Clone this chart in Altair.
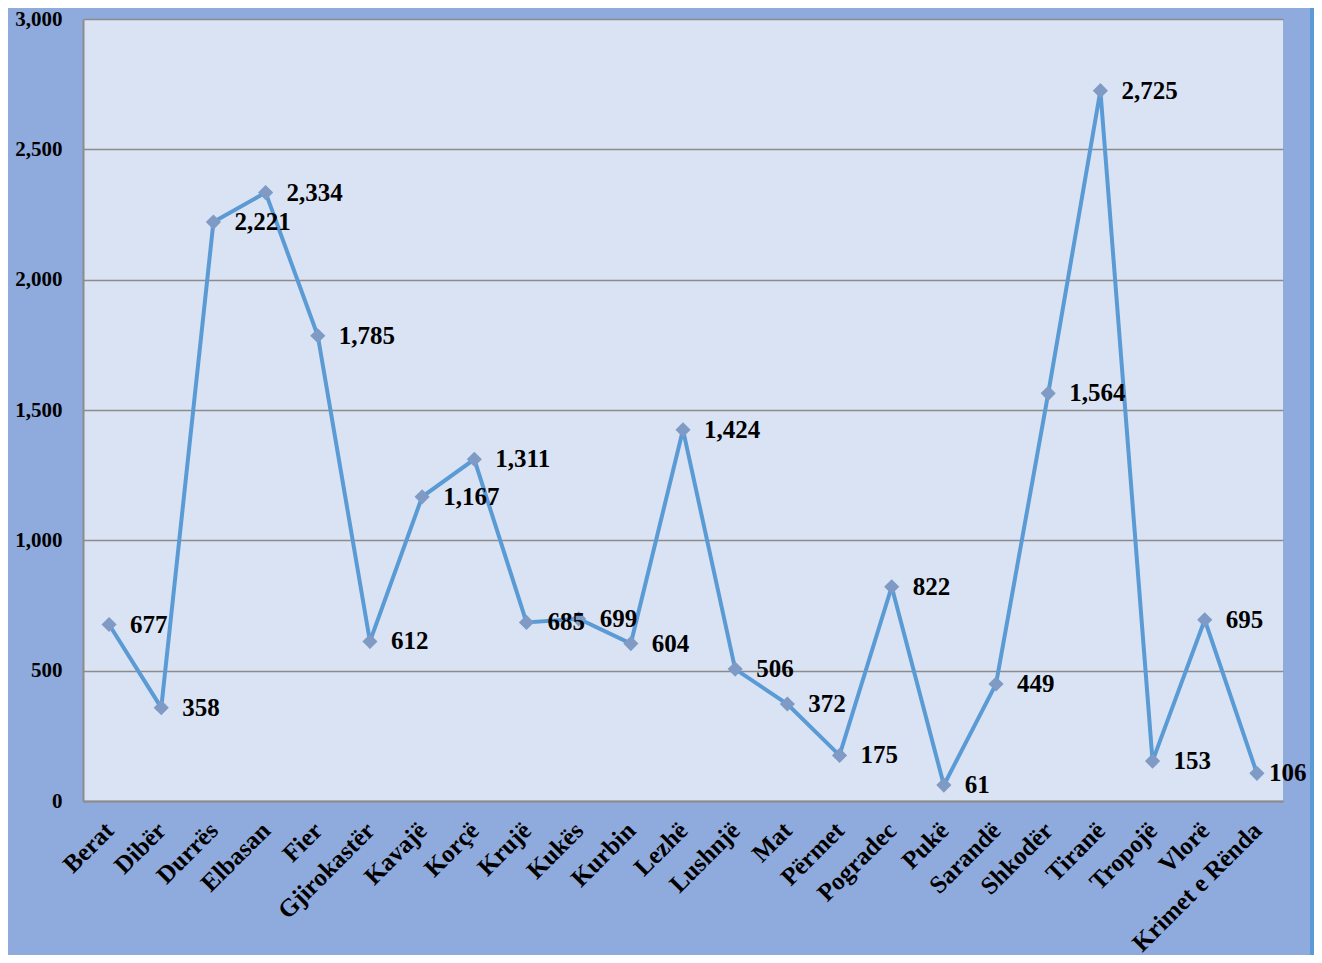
import altair as alt
import pandas as pd

districts = ["Berat", "Dibër", "Durrës", "Elbasan", "Fier", "Gjirokastër", "Kavajë",
             "Korçë", "Krujë", "Kukës", "Kurbin", "Lezhë", "Lushnjë", "Mat", "Përmet",
             "Pogradec", "Pukë", "Sarandë", "Shkodër", "Tiranë", "Tropojë", "Vlorë",
             "Krimet e Rënda"]
values = [677, 358, 2221, 2334, 1785, 612, 1167, 1311, 685, 699, 604, 1424, 506,
          372, 175, 822, 61, 449, 1564, 2725, 153, 695, 106]
y_ticks = [0, 500, 1000, 1500, 2000, 2500, 3000]

df = pd.DataFrame({"district": districts, "value": values})
last = districts[-1]

FONT = "Liberation Serif"
W, H = 1200, 782

x = alt.X("district:N", sort=districts,
          scale=alt.Scale(type="point", padding=0.5),
          axis=alt.Axis(title=None, labelAngle=-45, labelAlign="right",
                        labelBaseline="middle", labelFont=FONT, labelFontSize=25,
                        labelFontWeight="bold", labelColor="black", labelPadding=25,
                        ticks=False, grid=False, domainColor="#8c8c8c",
                        domainWidth=2, labelOverlap=False))
y = alt.Y("value:Q", scale=alt.Scale(domain=[0, 3000], nice=False),
          axis=alt.Axis(title=None, values=y_ticks,
                        format=",.0f", labelFont=FONT, labelFontSize=21,
                        labelFontWeight="bold", labelColor="black", labelPadding=21,
                        ticks=False, gridColor="#8c8c8c", gridWidth=1.3,
                        domainColor="#8c8c8c", domainWidth=2))

base = alt.Chart(df)

stripe_dark = alt.Chart(df).mark_rect(color="#5B9BD5").encode(
    x=alt.value(1227), x2=alt.value(1232), y=alt.value(-11), y2=alt.value(H + 160))
stripe_light = alt.Chart(df).mark_rect(color="#A9D1F7").encode(
    x=alt.value(1232), x2=alt.value(1260), y=alt.value(-11), y2=alt.value(H + 160))

line = base.mark_line(color="#5B9BD5", strokeWidth=4).encode(x=x, y=y)
points = base.mark_point(shape="diamond", filled=True, color="#7E9AC5",
                         size=230, opacity=1).encode(x=x, y=y)
text_style = dict(align="left", baseline="middle", font=FONT, fontSize=25,
                  fontWeight="bold", color="black")
labels = base.transform_filter(alt.datum.district != last).mark_text(
    dx=21, **text_style).encode(x=x, y=y, text=alt.Text("value:Q", format=",.0f"))
label_last = base.transform_filter(alt.datum.district == last).mark_text(
    dx=12, **text_style).encode(x=x, y=y, text=alt.Text("value:Q", format=",.0f"))

chart = alt.layer(stripe_dark, stripe_light, line, points, labels, label_last).properties(
    width=W, height=H,
    background="#8FAADC",
    padding={"left": 75, "top": 11, "right": 31, "bottom": 154},
    autosize=alt.AutoSizeParams(type="none"),
).configure_view(fill="#DAE3F3", stroke=None)

chart.save("out.html", embed_options={"renderer": "svg", "actions": False})
